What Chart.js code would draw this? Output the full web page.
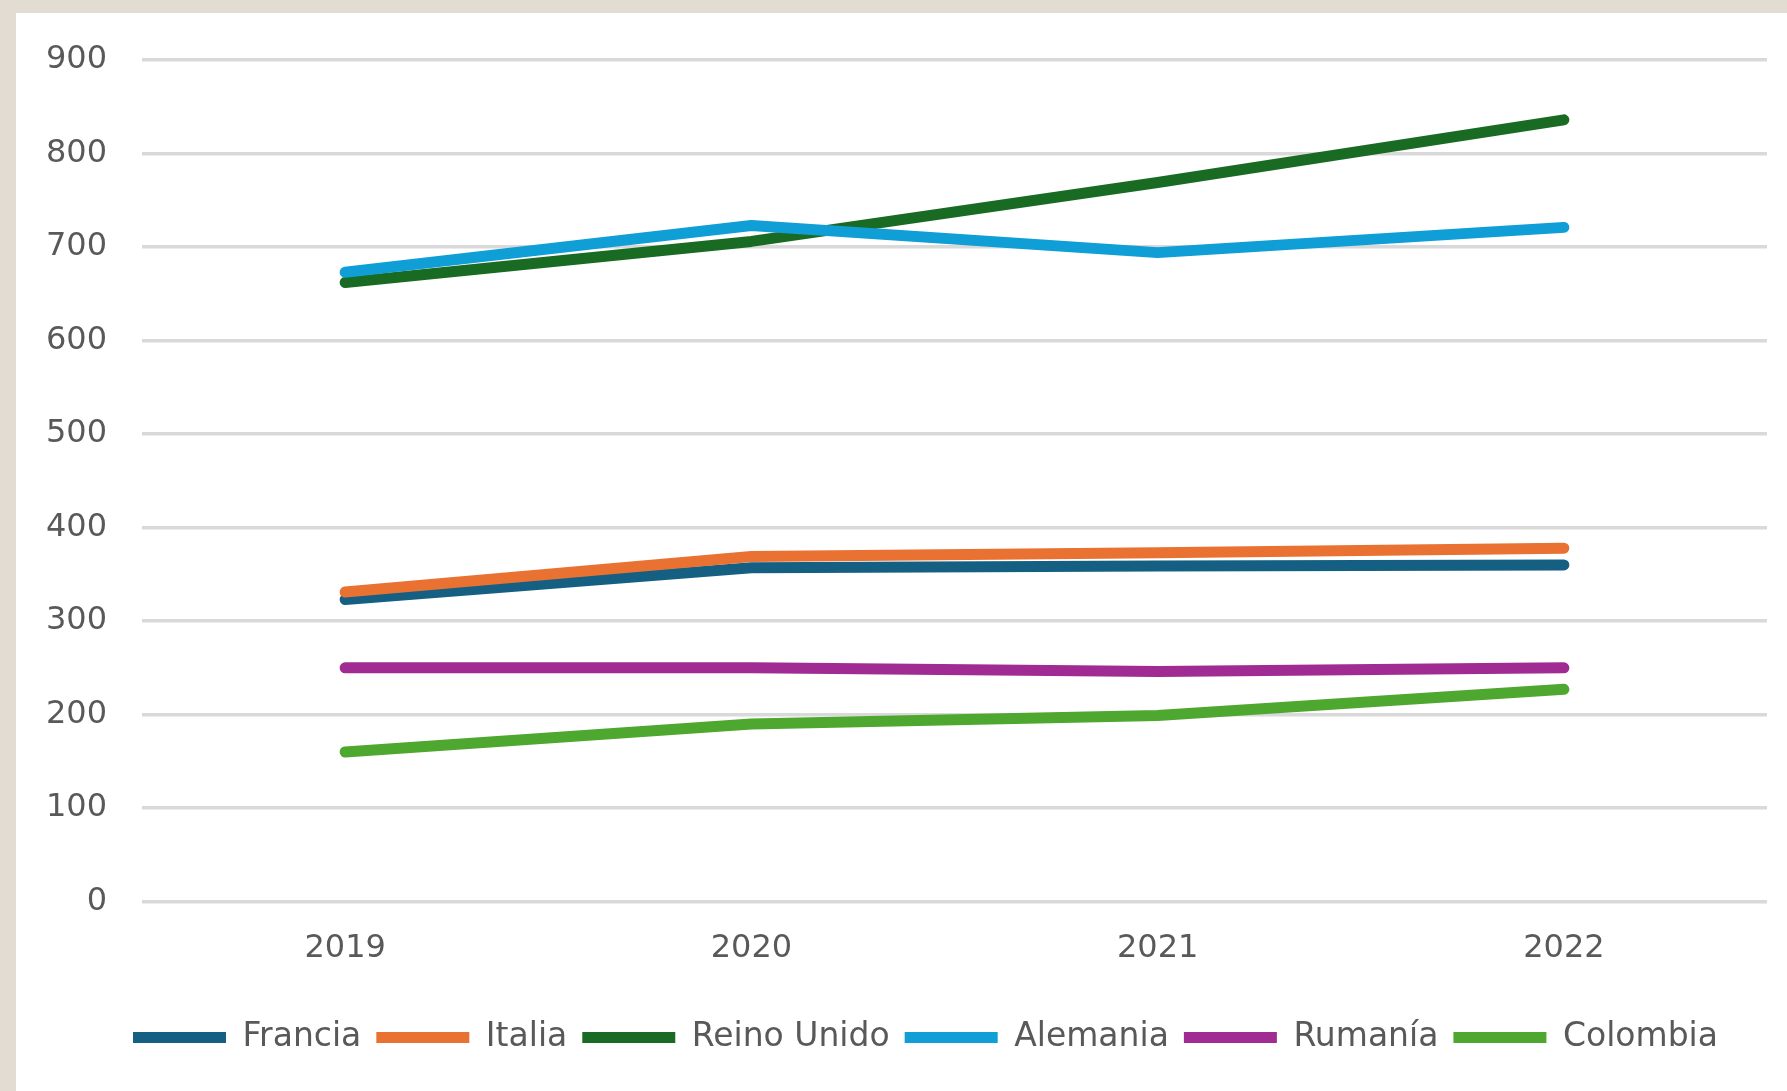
<!DOCTYPE html>
<html>
<head>
<meta charset="utf-8">
<script src="https://cdn.jsdelivr.net/npm/chart.js@4"></script>
<style>
  html, body { margin: 0; padding: 0; background: #e3dcd2; }
  #wrap { position: absolute; left: 16px; top: 13px; width: 1771px; height: 1078px; background: #ffffff; }
</style>
</head>
<body>
<div id="wrap"><canvas id="myChart" width="1771" height="1078"></canvas></div>
<script>
// Data
const years = ["2019", "2020", "2021", "2022"];
const francia = [323, 357, 359, 360];
const italia = [331, 369, 373, 378];
const reinoUnido = [662, 706, 769, 836];
const alemania = [673, 723, 694, 721];
const rumania = [250, 250, 246, 250];
const colombia = [160, 190, 199, 227];

const series = [
  { label: "Francia", data: francia, color: "#156082" },
  { label: "Italia", data: italia, color: "#e97132" },
  { label: "Reino Unido", data: reinoUnido, color: "#196b24" },
  { label: "Alemania", data: alemania, color: "#0f9ed5" },
  { label: "Rumanía", data: rumania, color: "#a02b93" },
  { label: "Colombia", data: colombia, color: "#4ea72e" },
];

const tickFont = { family: "'DejaVu Sans', sans-serif", size: 32 };
const legendFont = { family: "'DejaVu Sans', sans-serif", size: 33 };

const data = {
  labels: years,
  datasets: series.map((s, i) => ({
    label: s.label,
    data: s.data,
    borderColor: s.color,
    backgroundColor: s.color,
    borderWidth: 11,
    borderCapStyle: "round",
    borderJoinStyle: "round",
    pointRadius: 0,
    tension: 0,
    order: series.length - i, // later series on top, like Excel
  })),
};

// legend sits a bit right of the canvas centre in the original
const legendShift = {
  id: "legendShift",
  afterLayout(chart) {
    chart.legend.left += 34;
    chart.legend.right += 34;
  },
};

const config = {
  type: "line",
  data: data,
  plugins: [legendShift],
  options: {
    responsive: false,
    animation: false,
    layout: { padding: { left: 0, right: 20, top: 47, bottom: 27 } },
    plugins: {
      tooltip: { enabled: false },
      legend: {
        position: "bottom",
        labels: {
          font: legendFont,
          color: "#595959",
          boxWidth: 93,
          boxHeight: 11,
          useBorderRadius: true,
          borderRadius: 5.5,
          padding: 15,
          sort: (a, b) => a.datasetIndex - b.datasetIndex,
          generateLabels: (chart) =>
            chart.data.datasets.map((ds, i) => ({
              text: ds.label,
              fillStyle: ds.borderColor,
              strokeStyle: ds.borderColor,
              lineWidth: 0,
              fontColor: "#595959",
              hidden: false,
              datasetIndex: i,
            })),
        },
      },
    },
    scales: {
      x: {
        offset: true,
        grid: { display: false },
        border: { display: false },
        ticks: { font: tickFont, color: "#595959", padding: 20 },
        afterFit: (scale) => { scale.height += 18; },
      },
      y: {
        min: 0,
        max: 900,
        ticks: { stepSize: 100, font: tickFont, color: "#595959", padding: 5 },
        grid: {
          color: "#d9d9d9",
          lineWidth: 3.5,
          drawTicks: true,
          tickLength: 30,
          tickColor: "rgba(0,0,0,0)",
        },
        border: { display: false },
        afterFit: (scale) => { scale.width = 126; },
      },
    },
  },
};

// Plotting
let ctx = document.getElementById("myChart").getContext("2d");
let multiLineChart = new Chart(ctx, config);
</script>
</body>
</html>
